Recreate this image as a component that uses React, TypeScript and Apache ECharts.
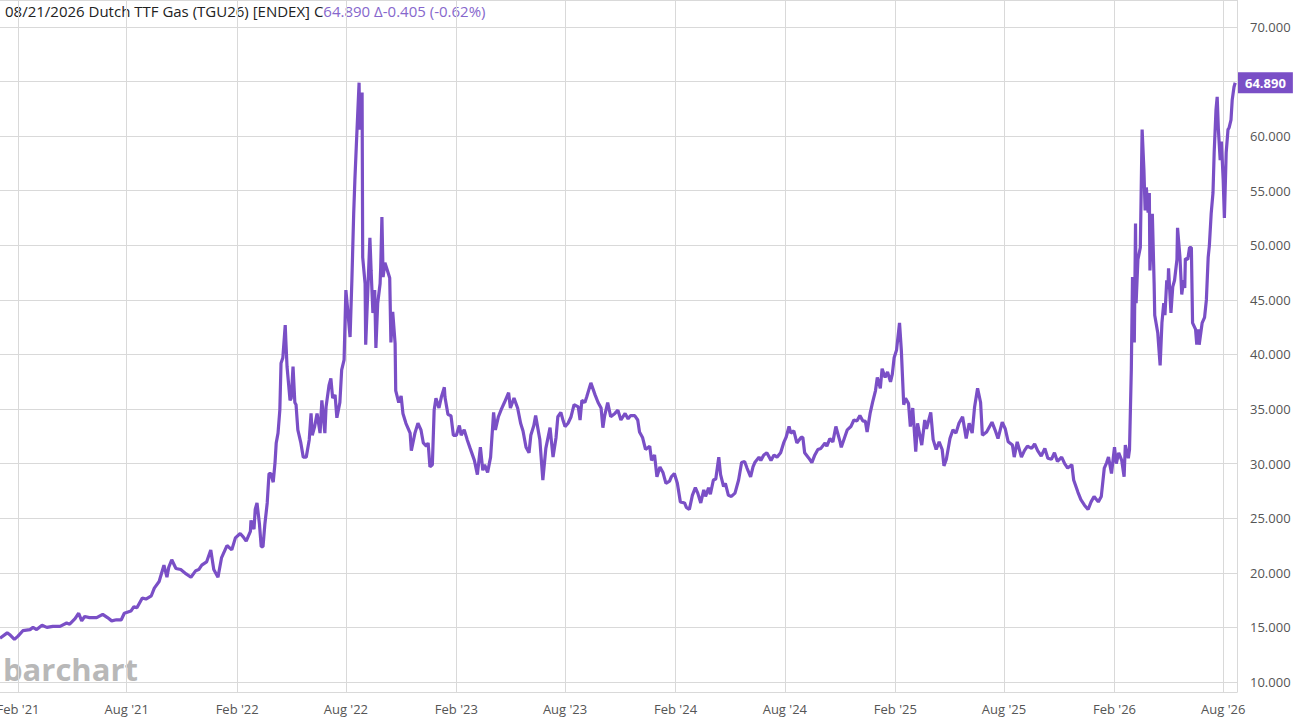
import { useEffect, useRef } from "react";
import * as echarts from "echarts";

// price path, split by year: [date, close]
const prices2021: [string, number][] = [
  ["2021-01-02", 14.0], ["2021-01-14", 14.5], ["2021-01-19", 14.3], ["2021-01-26", 13.9], ["2021-02-01", 14.2],
  ["2021-02-09", 14.7], ["2021-02-21", 14.8], ["2021-02-26", 15.0], ["2021-03-04", 14.8], ["2021-03-13", 15.2],
  ["2021-03-21", 15.0], ["2021-03-31", 15.1], ["2021-04-12", 15.1], ["2021-04-23", 15.4], ["2021-04-28", 15.3],
  ["2021-05-07", 15.8], ["2021-05-13", 16.3], ["2021-05-18", 15.6], ["2021-05-23", 16.0], ["2021-05-31", 15.9],
  ["2021-06-12", 15.9], ["2021-06-22", 16.2], ["2021-06-30", 15.9], ["2021-07-07", 15.6], ["2021-07-15", 15.7],
  ["2021-07-23", 15.7], ["2021-07-28", 16.3], ["2021-08-08", 16.5], ["2021-08-13", 16.9], ["2021-08-18", 16.8],
  ["2021-08-27", 17.7], ["2021-09-02", 17.6], ["2021-09-11", 17.9], ["2021-09-16", 18.6], ["2021-09-24", 19.2],
  ["2021-10-02", 20.7], ["2021-10-07", 19.6], ["2021-10-10", 20.5], ["2021-10-15", 21.2], ["2021-10-22", 20.4],
  ["2021-10-30", 20.3], ["2021-11-08", 19.9], ["2021-11-16", 19.6], ["2021-11-24", 20.2], ["2021-11-29", 20.3],
  ["2021-12-04", 20.7], ["2021-12-12", 21.0], ["2021-12-19", 22.1], ["2021-12-24", 20.3], ["2021-12-31", 19.6],
];

const prices2022: [string, number][] = [
  ["2022-01-06", 21.4], ["2022-01-15", 22.5], ["2022-01-23", 22.1], ["2022-01-29", 23.2], ["2022-02-06", 23.6],
  ["2022-02-11", 23.3], ["2022-02-16", 22.9], ["2022-02-23", 23.8], ["2022-02-24", 24.8], ["2022-03-01", 24.0],
  ["2022-03-03", 25.8], ["2022-03-06", 26.4], ["2022-03-10", 24.5], ["2022-03-13", 22.4], ["2022-03-16", 22.4],
  ["2022-03-19", 24.4], ["2022-03-23", 26.4], ["2022-03-26", 29.1], ["2022-03-29", 29.1], ["2022-04-02", 28.3],
  ["2022-04-05", 30.1], ["2022-04-07", 31.9], ["2022-04-10", 32.8], ["2022-04-13", 34.9], ["2022-04-15", 39.2],
  ["2022-04-18", 39.7], ["2022-04-22", 42.7], ["2022-04-23", 41.3], ["2022-04-25", 38.9], ["2022-04-30", 35.8],
  ["2022-05-02", 36.0], ["2022-05-05", 38.9], ["2022-05-08", 35.6], ["2022-05-10", 35.4], ["2022-05-13", 33.1],
  ["2022-05-18", 31.9], ["2022-05-22", 30.6], ["2022-05-27", 30.6], ["2022-06-01", 32.2], ["2022-06-04", 34.6],
  ["2022-06-06", 32.6], ["2022-06-10", 33.4], ["2022-06-14", 34.6], ["2022-06-19", 32.8], ["2022-06-22", 35.8],
  ["2022-06-27", 32.8], ["2022-06-29", 35.2], ["2022-07-04", 37.2], ["2022-07-07", 37.8], ["2022-07-10", 36.0],
  ["2022-07-14", 36.3], ["2022-07-17", 34.2], ["2022-07-22", 35.6], ["2022-07-25", 38.6], ["2022-07-29", 39.5],
  ["2022-08-01", 45.9], ["2022-08-04", 44.1], ["2022-08-08", 41.6], ["2022-08-11", 46.8], ["2022-08-14", 52.9],
  ["2022-08-16", 56.0], ["2022-08-19", 59.9], ["2022-08-23", 64.9], ["2022-08-24", 60.6], ["2022-08-28", 64.0],
  ["2022-08-29", 48.9], ["2022-09-02", 46.5], ["2022-09-03", 40.9], ["2022-09-10", 50.7], ["2022-09-12", 47.7],
  ["2022-09-15", 43.8], ["2022-09-18", 45.9], ["2022-09-20", 40.6], ["2022-09-23", 44.7], ["2022-09-27", 46.5],
  ["2022-09-28", 48.0], ["2022-09-30", 52.6], ["2022-10-02", 47.1], ["2022-10-05", 48.4], ["2022-10-08", 47.9],
  ["2022-10-13", 47.0], ["2022-10-15", 41.1], ["2022-10-18", 43.9], ["2022-10-22", 41.0], ["2022-10-23", 36.7],
  ["2022-10-28", 35.6], ["2022-11-01", 36.2], ["2022-11-04", 34.6], ["2022-11-09", 33.7], ["2022-11-16", 32.8],
  ["2022-11-18", 31.2], ["2022-11-24", 32.8], ["2022-11-29", 33.7], ["2022-12-04", 33.1], ["2022-12-08", 31.9],
  ["2022-12-13", 31.6], ["2022-12-16", 31.9], ["2022-12-19", 29.7], ["2022-12-23", 29.9], ["2022-12-26", 34.9],
  ["2022-12-29", 36.0],
];

const prices2023: [string, number][] = [
  ["2023-01-03", 35.1], ["2023-01-07", 36.1], ["2023-01-12", 37.0], ["2023-01-13", 36.1], ["2023-01-18", 34.5],
  ["2023-01-23", 34.4], ["2023-01-27", 32.6], ["2023-02-01", 32.6], ["2023-02-06", 33.5], ["2023-02-09", 32.6],
  ["2023-02-14", 33.1], ["2023-02-19", 32.2], ["2023-02-24", 31.4], ["2023-03-03", 30.3], ["2023-03-08", 29.0],
  ["2023-03-13", 31.5], ["2023-03-17", 29.4], ["2023-03-20", 29.9], ["2023-03-25", 29.2], ["2023-03-30", 30.6],
  ["2023-04-04", 34.7], ["2023-04-07", 33.1], ["2023-04-12", 34.3], ["2023-04-17", 35.0], ["2023-04-22", 35.6],
  ["2023-04-29", 36.5], ["2023-05-02", 35.1], ["2023-05-08", 36.0], ["2023-05-14", 35.1], ["2023-05-19", 33.7],
  ["2023-05-23", 33.0], ["2023-05-28", 31.5], ["2023-06-02", 31.0], ["2023-06-05", 32.6], ["2023-06-10", 33.5],
  ["2023-06-13", 34.4], ["2023-06-20", 32.2], ["2023-06-25", 28.5], ["2023-06-30", 31.4], ["2023-07-07", 33.3],
  ["2023-07-12", 30.6], ["2023-07-17", 32.4], ["2023-07-20", 34.3], ["2023-07-25", 34.7], ["2023-07-29", 33.9],
  ["2023-08-01", 33.4], ["2023-08-06", 33.7], ["2023-08-11", 34.3], ["2023-08-16", 35.4], ["2023-08-23", 35.2],
  ["2023-08-26", 34.0], ["2023-08-29", 35.8], ["2023-09-03", 35.6], ["2023-09-06", 36.1], ["2023-09-13", 37.4],
  ["2023-09-20", 36.3], ["2023-09-25", 35.6], ["2023-09-30", 35.1], ["2023-10-03", 33.3], ["2023-10-06", 34.4],
  ["2023-10-11", 35.6], ["2023-10-16", 34.3], ["2023-10-23", 34.6], ["2023-10-28", 34.9], ["2023-11-02", 34.0],
  ["2023-11-09", 34.6], ["2023-11-14", 34.1], ["2023-11-18", 34.4], ["2023-11-25", 34.4], ["2023-11-30", 34.0],
  ["2023-12-03", 32.9], ["2023-12-08", 32.4], ["2023-12-13", 31.3], ["2023-12-20", 31.6], ["2023-12-23", 30.3],
  ["2023-12-28", 30.8],
];

const prices2024: [string, number][] = [
  ["2024-01-01", 28.8], ["2024-01-06", 29.7], ["2024-01-11", 29.2], ["2024-01-16", 28.2], ["2024-01-22", 28.4],
  ["2024-01-25", 28.8], ["2024-01-30", 29.1], ["2024-02-04", 28.2], ["2024-02-09", 26.5], ["2024-02-16", 26.4],
  ["2024-02-19", 26.0], ["2024-02-24", 25.8], ["2024-02-29", 27.1], ["2024-03-05", 27.8], ["2024-03-09", 27.3],
  ["2024-03-14", 26.4], ["2024-03-19", 27.6], ["2024-03-22", 27.0], ["2024-03-27", 27.8], ["2024-03-30", 27.2],
  ["2024-04-04", 28.5], ["2024-04-08", 28.6], ["2024-04-13", 30.6], ["2024-04-16", 29.0], ["2024-04-21", 27.9],
  ["2024-04-24", 28.2], ["2024-04-29", 27.1], ["2024-05-04", 27.0], ["2024-05-10", 27.3], ["2024-05-16", 28.5],
  ["2024-05-21", 30.1], ["2024-05-26", 30.2], ["2024-05-30", 29.6], ["2024-06-05", 28.8], ["2024-06-09", 29.7],
  ["2024-06-12", 30.1], ["2024-06-19", 30.6], ["2024-06-22", 30.3], ["2024-06-27", 30.8], ["2024-07-02", 31.0],
  ["2024-07-09", 30.3], ["2024-07-14", 30.8], ["2024-07-19", 30.6], ["2024-07-25", 31.0], ["2024-07-30", 31.9],
  ["2024-08-03", 32.4], ["2024-08-08", 33.4], ["2024-08-11", 32.8], ["2024-08-16", 33.0], ["2024-08-21", 31.9],
  ["2024-08-28", 32.4], ["2024-08-31", 32.4], ["2024-09-03", 31.0], ["2024-09-10", 30.5], ["2024-09-15", 30.1],
  ["2024-09-20", 30.8], ["2024-09-25", 31.3], ["2024-09-30", 31.4], ["2024-10-07", 31.9], ["2024-10-10", 31.6],
  ["2024-10-15", 32.3], ["2024-10-20", 32.0], ["2024-10-25", 33.4], ["2024-11-01", 32.0], ["2024-11-03", 31.5],
  ["2024-11-08", 32.3], ["2024-11-13", 33.1], ["2024-11-19", 33.4], ["2024-11-24", 34.0], ["2024-11-29", 33.9],
  ["2024-12-04", 34.4], ["2024-12-09", 33.9], ["2024-12-13", 33.9], ["2024-12-16", 32.9], ["2024-12-21", 34.6],
  ["2024-12-25", 35.6], ["2024-12-30", 36.7],
];

const prices2025: [string, number][] = [
  ["2025-01-02", 37.9], ["2025-01-07", 36.9], ["2025-01-10", 38.7], ["2025-01-15", 37.9], ["2025-01-19", 38.4],
  ["2025-01-24", 37.5], ["2025-01-27", 38.2], ["2025-01-30", 39.7], ["2025-02-03", 40.4], ["2025-02-08", 42.9],
  ["2025-02-11", 40.4], ["2025-02-15", 35.4], ["2025-02-18", 36.0], ["2025-02-23", 35.5], ["2025-02-26", 33.4],
  ["2025-03-02", 35.1], ["2025-03-07", 31.1], ["2025-03-10", 33.7], ["2025-03-17", 31.7], ["2025-03-22", 34.0],
  ["2025-03-25", 33.2], ["2025-04-01", 34.7], ["2025-04-05", 32.2], ["2025-04-10", 31.3], ["2025-04-15", 32.0],
  ["2025-04-20", 31.3], ["2025-04-23", 29.8], ["2025-04-27", 30.4], ["2025-05-03", 32.3], ["2025-05-08", 33.1],
  ["2025-05-13", 32.8], ["2025-05-18", 33.7], ["2025-05-24", 34.3], ["2025-05-30", 32.3], ["2025-06-04", 33.7],
  ["2025-06-09", 32.8], ["2025-06-13", 35.2], ["2025-06-18", 36.9], ["2025-06-23", 35.6], ["2025-06-26", 32.6],
  ["2025-07-03", 32.9], ["2025-07-12", 33.8], ["2025-07-17", 33.1], ["2025-07-22", 32.3], ["2025-07-29", 33.8],
  ["2025-08-03", 33.2], ["2025-08-08", 32.0], ["2025-08-15", 31.7], ["2025-08-18", 30.6], ["2025-08-23", 32.0],
  ["2025-08-30", 30.6], ["2025-09-04", 31.2], ["2025-09-09", 31.6], ["2025-09-16", 31.4], ["2025-09-21", 31.8],
  ["2025-09-26", 31.2], ["2025-10-02", 30.7], ["2025-10-08", 31.4], ["2025-10-13", 30.5], ["2025-10-19", 30.4],
  ["2025-10-24", 31.0], ["2025-10-29", 30.2], ["2025-11-05", 30.6], ["2025-11-10", 30.0], ["2025-11-15", 29.6],
  ["2025-11-22", 29.9], ["2025-11-25", 28.5], ["2025-12-02", 27.4], ["2025-12-07", 26.7], ["2025-12-13", 26.2],
  ["2025-12-19", 25.8], ["2025-12-24", 26.5], ["2025-12-29", 27.0],
];

const prices2026: [string, number][] = [
  ["2026-01-05", 26.5], ["2026-01-10", 27.0], ["2026-01-15", 29.6], ["2026-01-19", 30.1], ["2026-01-22", 30.6],
  ["2026-01-27", 29.1], ["2026-02-01", 31.5], ["2026-02-04", 30.0], ["2026-02-08", 31.0], ["2026-02-13", 30.3],
  ["2026-02-17", 28.8], ["2026-02-19", 31.7], ["2026-02-24", 30.5], ["2026-02-26", 31.3], ["2026-03-01", 38.6],
  ["2026-03-03", 47.1], ["2026-03-06", 41.1], ["2026-03-08", 52.0], ["2026-03-09", 44.7], ["2026-03-12", 48.7],
  ["2026-03-16", 49.8], ["2026-03-19", 60.6], ["2026-03-22", 56.9], ["2026-03-24", 53.2], ["2026-03-26", 55.3],
  ["2026-03-29", 53.0], ["2026-03-31", 54.8], ["2026-04-01", 47.7], ["2026-04-05", 52.9], ["2026-04-08", 46.5],
  ["2026-04-09", 43.6], ["2026-04-14", 42.0], ["2026-04-18", 39.0], ["2026-04-21", 42.9], ["2026-04-24", 44.7],
  ["2026-04-26", 43.6], ["2026-04-29", 46.8], ["2026-05-01", 46.0], ["2026-05-02", 47.9], ["2026-05-06", 43.8],
  ["2026-05-09", 46.2], ["2026-05-12", 46.8], ["2026-05-16", 48.7], ["2026-05-17", 51.6], ["2026-05-21", 48.9],
  ["2026-05-24", 45.5], ["2026-05-27", 46.8], ["2026-05-29", 46.1], ["2026-05-30", 48.8], ["2026-06-03", 48.7],
  ["2026-06-06", 49.8], ["2026-06-09", 49.8], ["2026-06-11", 42.9], ["2026-06-16", 42.3], ["2026-06-18", 40.9],
  ["2026-06-21", 42.3], ["2026-06-22", 40.9], ["2026-06-27", 42.9], ["2026-07-01", 43.4], ["2026-07-04", 45.0],
  ["2026-07-07", 48.9], ["2026-07-09", 50.0], ["2026-07-12", 52.9], ["2026-07-15", 54.8], ["2026-07-17", 58.5],
  ["2026-07-20", 62.4], ["2026-07-22", 63.6], ["2026-07-24", 60.6], ["2026-07-27", 57.8], ["2026-07-29", 59.5],
  ["2026-08-01", 56.0], ["2026-08-03", 52.5], ["2026-08-06", 58.5], ["2026-08-09", 60.6], ["2026-08-11", 60.8],
  ["2026-08-14", 61.5], ["2026-08-16", 63.3], ["2026-08-19", 64.5], ["2026-08-21", 64.89],
];

const tickDates = [
  "2021-02-01", "2021-08-01", "2022-02-01", "2022-08-01", "2023-02-01", "2023-08-01",
  "2024-02-01", "2024-08-01", "2025-02-01", "2025-08-01", "2026-02-01", "2026-08-01",
];
const tickLabels = [
  "Feb '21", "Aug '21", "Feb '22", "Aug '22", "Feb '23", "Aug '23",
  "Feb '24", "Aug '24", "Feb '25", "Aug '25", "Feb '26", "Aug '26",
];

const LAST = 64.89;
const titleBlack = "08/21/2026 Dutch TTF Gas (TGU26) [ENDEX] C";
const titlePurple = "64.890 Δ-0.405 (-0.62%)";

const PURPLE = "#7a4fc6";
const GRID = "#d9d9d9";
const FONT = "'Open Sans', 'Noto Sans', sans-serif";

// day number (UTC) so the x axis is a plain value axis
const day = (s: string) => Date.UTC(+s.slice(0, 4), +s.slice(5, 7) - 1, +s.slice(8, 10)) / 86400000;

export default function App() {
  const ref = useRef<HTMLDivElement>(null);

  useEffect(() => {
    if (!ref.current) return;
    const chart = echarts.init(ref.current, undefined, { renderer: "svg" });
    const tickValues = tickDates.map(day);
    const data = [...prices2021, ...prices2022, ...prices2023, ...prices2024, ...prices2025, ...prices2026]
      .map(([d, v]) => [day(d), v]);

    chart.setOption({
      animation: false,
      textStyle: { fontFamily: FONT },
      grid: { left: 0, right: 59, top: 0, bottom: 29, containLabel: false, outerBoundsMode: "none" },
      xAxis: {
        type: "value",
        min: day("2021-01-02"),
        max: day("2026-08-24"),
        axisLine: { show: true, lineStyle: { color: GRID } },
        axisTick: { show: false, customValues: tickValues },
        axisLabel: {
          customValues: tickValues,
          color: "#555",
          fontSize: 13,
          margin: 10,
          showMinLabel: true,
          showMaxLabel: true,
          formatter: (v: number) => {
            const i = tickValues.indexOf(v);
            return i >= 0 ? tickLabels[i] : "";
          },
        },
        splitLine: { show: true, lineStyle: { color: GRID, width: 1 } },
      },
      yAxis: {
        type: "value",
        position: "right",
        min: 9.084,
        max: 72.473,
        splitNumber: 12,
        minInterval: 5,
        maxInterval: 5,
        axisLine: { show: true, lineStyle: { color: GRID } },
        axisTick: { show: false },
        axisLabel: {
          color: "#555",
          fontSize: 13,
          margin: 13,
          showMinLabel: false,
          showMaxLabel: false,
          // the last-price tag sits on top of the tick label next to it
          formatter: (v: number) => (Math.abs(v - LAST) < 1.5 ? "" : v.toFixed(3)),
        },
        splitLine: { show: true, lineStyle: { color: GRID, width: 1 } },
      },
      series: [
        {
          type: "line",
          data,
          showSymbol: false,
          symbol: "none",
          lineStyle: { color: PURPLE, width: 3.2 },
          itemStyle: { color: PURPLE },
          markLine: {
            silent: true,
            symbol: ["none", "none"],
            lineStyle: { color: "transparent", width: 0 },
            data: [{ yAxis: LAST }],
            label: {
              show: true,
              position: "end",
              distance: 1,
              formatter: LAST.toFixed(3),
              backgroundColor: PURPLE,
              color: "#fff",
              fontWeight: "bold",
              fontSize: 13,
              padding: [4, 7, 4, 7],
              fontFamily: FONT,
            },
          },
        },
      ],
      graphic: [
        {
          type: "text",
          left: 5,
          top: 3,
          style: {
            text: `{a|${titleBlack}}{b|${titlePurple}}`,
            rich: {
              a: { fontSize: 15, fill: "#222", fontFamily: FONT },
              b: { fontSize: 15, fill: "#8667cc", fontFamily: FONT },
            },
          },
        },
        {
          type: "text",
          left: 3,
          top: 653,
          style: {
            text: "barchart",
            fontSize: 31,
            fontWeight: "bold",
            fill: "#b8b8b8",
            fontFamily: FONT,
          },
        },
      ],
    });

    return () => chart.dispose();
  }, []);

  return (
    <div
      ref={ref}
      style={{ position: "fixed", left: 0, top: 0, width: 1296, height: 721, background: "#fff" }}
    />
  );
}
